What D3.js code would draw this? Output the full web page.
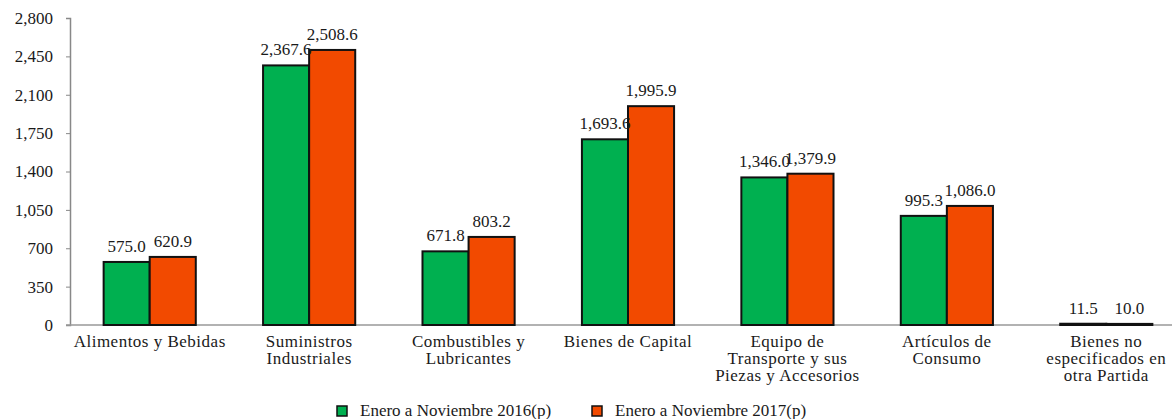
<!DOCTYPE html>
<html><head><meta charset="utf-8">
<script src="https://cdn.jsdelivr.net/npm/d3@7"></script>
<style>
html,body{margin:0;padding:0;background:#fff;}
svg{display:block;}
</style></head>
<body>
<svg id="chart" width="1172" height="419"></svg>
<script>
const categories = [
  ["Alimentos y Bebidas"],
  ["Suministros", "Industriales"],
  ["Combustibles y", "Lubricantes"],
  ["Bienes de Capital"],
  ["Equipo de", "Transporte y sus", "Piezas y Accesorios"],
  ["Artículos de", "Consumo"],
  ["Bienes no", "especificados en", "otra Partida"]
];
const series2016 = [575.0, 2367.6, 671.8, 1693.6, 1346.0, 995.3, 11.5];
const series2017 = [620.9, 2508.6, 803.2, 1995.9, 1379.9, 1086.0, 10.0];
const seriesNames = ["Enero a Noviembre 2016(p)", "Enero a Noviembre 2017(p)"];
const seriesColors = ["#00B050", "#F24A00"];
const yTicks = [0, 350, 700, 1050, 1400, 1750, 2100, 2450, 2800];

const FONT = '"Liberation Serif", "Times New Roman", serif';
const TXT = "#1a1a1a";
const svg = d3.select("#chart").style("font-family", FONT);
const x0 = 70, xEnd = 1186, yBase = 325, yTop = 18;

const catIdx = d3.range(categories.length);
const x = d3.scaleBand().domain(catIdx).range([x0, xEnd]).paddingInner(0).paddingOuter(0);
const xs = d3.scaleBand().domain([0, 1]).range([0, x.bandwidth()]).paddingInner(0).paddingOuter(0.73);
const y = d3.scaleLinear().domain([0, 2800]).range([yBase, yTop]);

const fmt = d3.format(",.1f");
const tickFmt = d3.format(",");

// y axis
const yAxis = svg.append("g").attr("transform", `translate(${x0},0)`)
  .call(d3.axisLeft(y).tickValues(yTicks).tickFormat(tickFmt).tickSize(4).tickPadding(13));
yAxis.attr("font-family", null).attr("font-size", null);
yAxis.select(".domain").attr("stroke", "#888").attr("stroke-width", 1.5);
yAxis.selectAll(".tick line").attr("stroke", "#888").attr("stroke-width", 1);
yAxis.selectAll(".tick text").attr("fill", TXT).style("font-family", FONT).style("font-size", "17px");

// x axis
const xAxis = svg.append("g").attr("transform", `translate(0,${yBase})`)
  .call(d3.axisBottom(x).tickSize(0).tickFormat(""));
xAxis.select(".domain").attr("stroke", "#999").attr("stroke-width", 1.5).attr("d", `M${x0 - 4},0H${xEnd}`);

// bars
const data = [series2016, series2017];
const groups = svg.append("g").selectAll("g").data(catIdx).join("g")
  .attr("transform", d => `translate(${x(d)},0)`);

groups.selectAll("rect").data(i => data.map((s, k) => ({k, v: s[i]}))).join("rect")
  .attr("x", d => xs(d.k))
  .attr("width", xs.bandwidth())
  .attr("y", d => y(d.v))
  .attr("height", d => yBase - y(d.v))
  .attr("fill", d => seriesColors[d.k])
  .attr("stroke", "#111")
  .attr("stroke-width", 2);

groups.selectAll("text.val").data(i => data.map((s, k) => ({k, v: s[i]}))).join("text")
  .attr("class", "val")
  .attr("x", d => xs(d.k) + xs.bandwidth() / 2)
  .attr("y", d => y(d.v) - 10)
  .attr("text-anchor", "middle")
  .style("font-family", FONT)
  .style("font-size", "17px")
  .attr("fill", TXT)
  .text(d => fmt(d.v));

// category labels
groups.append("text")
  .attr("text-anchor", "middle")
  .style("font-family", FONT)
  .style("font-size", "17px")
  .style("letter-spacing", "0.5px")
  .attr("fill", TXT)
  .selectAll("tspan").data(i => categories[i]).join("tspan")
  .attr("x", x.bandwidth() / 2)
  .attr("y", (d, j) => 347 + j * 17)
  .text(d => d);

// legend
const legend = svg.append("g");
const legX = [337, 592];
seriesNames.forEach((name, k) => {
  legend.append("rect").attr("x", legX[k]).attr("y", 406).attr("width", 10).attr("height", 10)
    .attr("fill", seriesColors[k]).attr("stroke", "#111").attr("stroke-width", 1.5);
  legend.append("text").attr("x", legX[k] + 23).attr("y", 416)
    .style("font-family", FONT).style("font-size", "17px").attr("fill", TXT).text(name);
});
</script>
</body></html>
